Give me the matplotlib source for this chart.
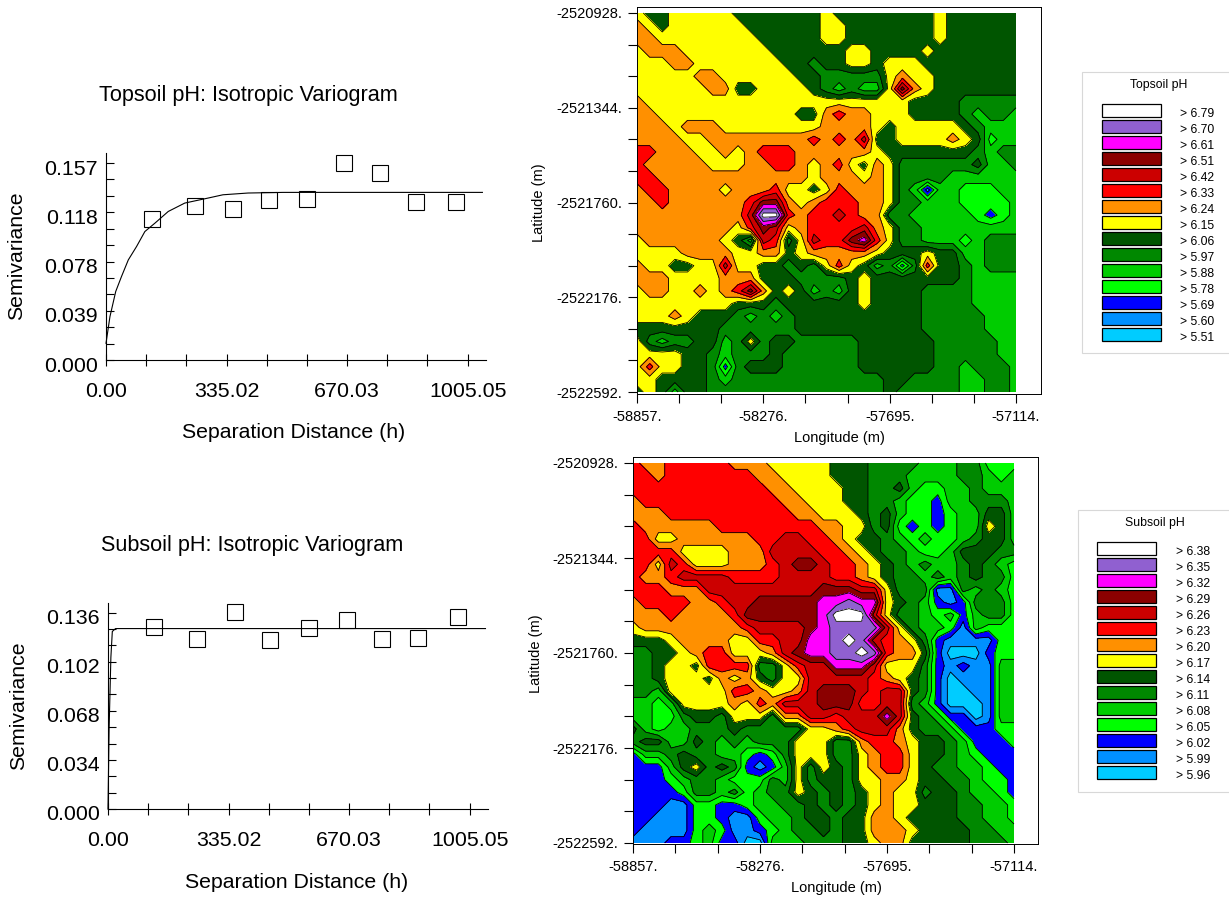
"""
Variograms and kriged pH maps for topsoil and subsoil.
"""

import numpy as np
import matplotlib
matplotlib.use("Agg")
import matplotlib.pyplot as plt
from matplotlib.colors import ListedColormap
from matplotlib.patches import Rectangle
from matplotlib.transforms import ScaledTranslation

plt.rcParams['font.family'] = ['Liberation Sans', 'DejaVu Sans']

W, H = 1229, 898

# variogram data
top_h = [126.7, 246.9, 352.3, 453.0, 557.5, 662.0, 761.8, 860.8, 971.7]
top_gamma = [0.1126, 0.1224, 0.1203, 0.1272, 0.1285, 0.1570, 0.1490, 0.1256, 0.1259]
top_model_h = [0, 11, 27, 43, 62, 85, 108, 136, 173, 219, 284, 325, 395, 492, 1046]
top_model = [0.0133, 0.0346, 0.0546, 0.0665, 0.0798, 0.0905, 0.1024, 0.1091,
             0.1184, 0.1251, 0.1291, 0.1317, 0.1331, 0.1336, 0.1336]

sub_h = [126.7, 246.9, 352.3, 451.2, 557.5, 663.9, 761.8, 861.7, 971.7]
sub_gamma = [0.1263, 0.1180, 0.1362, 0.1169, 0.1252, 0.1305, 0.1180, 0.1183, 0.1332]
sub_model_h = [0, 3, 8, 12, 21, 1049]
sub_model = [0.0, 0.055, 0.105, 0.1229, 0.1249, 0.1249]

x_labels = ['0.00', '335.02', '670.03', '1005.05']
x_values = [0.0, 335.02, 670.03, 1005.05]
top_y_labels = ['0.000', '0.039', '0.078', '0.118', '0.157']
sub_y_labels = ['0.000', '0.034', '0.068', '0.102', '0.136']

# map classes, a = lowest pH class ... o = highest
class_colors = ['#00CCFF', '#0090FF', '#0000FF', '#00FF00', '#00CC00', '#008800',
                '#005500', '#FFFF00', '#FF9000', '#FF0000', '#CC0000', '#8B0000',
                '#FF00FF', '#9060D0', '#FFFFFF']
top_breaks = ['5.51', '5.60', '5.69', '5.78', '5.88', '5.97', '6.06', '6.15',
              '6.24', '6.33', '6.42', '6.51', '6.61', '6.70', '6.79']
sub_breaks = ['5.96', '5.99', '6.02', '6.05', '6.08', '6.11', '6.14', '6.17',
              '6.20', '6.23', '6.26', '6.29', '6.32', '6.35', '6.38']

lon_labels = ['-58857.', '-58276.', '-57695.', '-57114.']
lon_values = [-58857, -58276, -57695, -57114]
lat_labels = ['-2522592.', '-2522176.', '-2521760.', '-2521344.', '-2520928.']
lat_values = [-2522592, -2522176, -2521760, -2521344, -2520928]

# rows run north to south, spaces are only for reading
topsoil_grid = [
    "hgg hhhhh ggggggg h gggggggg h gggggg",
    "ihg hhhhhh gggggg hh ggggggg h gggggg",
    "ii hhhhhhhh ggggg hh ggggggg h gggggg",
    "hiii hhhhhhh gggggg hh gggg h ggggggg",
    "hhhii hhhhhhh gg fgg hh g hhh gggggggg",
    "hhhhh ii hhhhhh gg fffff h i hh ggggggg",
    "hhhhhh ii gg hhhh g fefee h l i h ggggggg",
    "i hhhhhhhhhhhhhhhhhhhhh gggg fffff",
    "ii hhhhhhhhhhh gg ijii hhh gggg feffe",
    "iii h iii hhhhhhhh iiii h g hhhhh g f eee",
    "iiii hh iiiiiiii j i j i k gg hhhh i h g d ee",
    "jjiii hh i h i jjj iiiiii h ggggggg feff",
    "j iiiii hhh ii jj i h i j h g i h ffffff g ee f",
    "jj iiiiiiiii iii h iii h i h ffff eeeeee",
    "ijj iiii h iii j hh g h j iii h f e b ee ddd ee",
    "ii j iiiiii j l l i h i jjj ii h ff eee dddd e",
    "iiiiiiiii k oo j i jj k j ii f f eeeee d c d e",
    "iiiiiiii h j l k h i jjjj k i h f f eeeeeeee",
    "h iiiiii h g e k j f h k jj l m j h ff eee d e fff",
    "hhhh iiii h h ii g h iiiii h ggg h gg e e fff",
    "ihh gg hh k hh gg f g f h j h g e f c f j g g f e fff",
    "iii hhhh iii ggg ffff g h ggggggg f eeee",
    "h ii hh i h i j l i g h g e f e g h gggg ffff eeee",
    "hhhhhhhh ggg f gggggg h gggg ffff eeee",
    "hhhihggg fefef gggggggggg fffff eee",
    "ggggggg ffffff gggggggggg fffff eee",
    "h f e ff gg e f h f g g fffff gggggg fffff ee",
    "hhhh gg f e fff g ffffff gggggg fffff ee",
    "hjhh gg f c f ggg ffffff gggggg ff e fff e",
    "hh gggg f e ffffffffffff gg ffff ee ff e",
    "gh g e gg ffffffffffffff g ffff f ee ff e",
]

subsoil_grid = [
    "j ii jjjjj iii hhhhh ggg ffff eee ff ddd",
    "jj i jjjjjj j ii hhhh ggg fff eeee ff e d e",
    "jjjjjjjjjjj ii hhhh gg ff g e dd ee f eee",
    "i jjjjjjjjjjj ii hhh gg ff e dd c ee fffe",
    "iii jjjjjjjjjj ii hhh g f g e dd c d ee gg e",
    "j iiiiii jjjjjjjj ii hh f g d c d c d ee h g e",
    "jj hh iiiiii jj kk jj i h gg f e d e dd e f gg e",
    "jjjj hhhh iii kkkk jj i h g ff e dd e ggg ff",
    "j j h k j hhh iii j k ll k jj i h g f e f ee f g f e d",
    "j ii j kkkk jjjj kkkk jj i h g ff e f e f g ff d",
    "jjj iii kkkkkkkkk lll kk h fff bb f e f e d",
    "i jjjj ii j kk lllll m m n mm h g f e c b c fff d",
    "iii j iiii j llllll m ooo k h ff e d e c e f f d",
    "h iiiiiiii j kkkk l m nnnn k h f e e d b e ddd",
    "ggg h iiii hh jj kk mm n o n k j i h f c bbbb dd",
    "ff gg h i jj hhh i k l mm nn o n j ii g c aaa c dd",
    "ffg hh g jjj j f f h j kk mmm k hhh f c b c bb ee",
    "ffg hhh g i h i g f hh kkkkk j i h g f c a bbb ee",
    "ffe hhhh h jj i hh i k lll k j kk g f c aa bb ee",
    "ee d e hhhh i h j i kkk lll j j kk f e c aaa b ee",
    "e e dd f gg f hhh f i i kk j k k k m k g f e c c a b ee",
    "g e d ee ff f g ffff f h h i j kk k i g ff e ccc dd",
    "fgg ee g f e f e fff hhh ff i jj i h gg f e ccc d",
    "c ee f g ff ee d c d f hhh ff h i jj h gg f e d ccc",
    "ccc e g h f g f c b c e h f h g f h i jj h g ff ee d cc",
    "ccc d e ff e ddd f e h f gg f hh ii h gg ff e dd c",
    "cccc d ff e f d e ff h g f g f g h i hh f gg f ee d c",
    "ccc bb dd cc d ee ff g f g f g h i hh ggg ff ee d",
    "cc bbb dd c bb d ee f gg f gg ii h gggg ff ee d",
    "cbbbb d e d bb c d e ff g f gg iii h gggg ff ee",
    "bbb cc d e cc aa eee fff gg h ii ggggg fff e",
]


def px_text(fig, x, y, s, **kw):
    kw.setdefault('ha', 'center')
    kw.setdefault('va', 'center')
    fig.text(x / W, 1 - y / H, s, **kw)


def px_axes(fig, left, top, right, bottom):
    return fig.add_axes([left / W, 1 - bottom / H, (right - left) / W, (bottom - top) / H])


def grid_values(rows):
    """Letters to class centres on the 0..15 scale."""
    out = []
    for row in rows:
        out.append([ord(c) - ord('a') + 0.5 for c in row.replace(' ', '')])
    return np.array(out)


def draw_variogram(fig, box, h, gamma, model_h, model, y_labels, y_max, x_max, y_top):
    ax = px_axes(fig, *box)
    ax.set_facecolor('none')
    ax.plot(model_h, model, color='black', lw=0.8, clip_on=False)
    ax.plot(h, gamma, ls='none', marker='s', ms=11.3, mfc='none', mec='black', mew=0.8,
            clip_on=False)

    ax.set_xlim(0, x_max)
    ax.set_ylim(0, y_top)
    for side in ('top', 'right'):
        ax.spines[side].set_visible(False)
    for side in ('left', 'bottom'):
        ax.spines[side].set_linewidth(0.8)

    ax.set_xticks(x_values)
    ax.set_xticklabels(x_labels, fontsize=15.4)
    ax.set_xticks([x_values[3] * k / 9 for k in range(10)], minor=True)
    ax.tick_params(axis='x', which='both', direction='inout', length=8, width=0.8, pad=12)

    y_ticks = [y_max * k / 4 for k in range(5)]
    ax.set_yticks(y_ticks)
    ax.set_yticklabels(y_labels, fontsize=15.4)
    ax.set_yticks([y_max * k / 12 for k in range(13)], minor=True)
    ax.tick_params(axis='y', which='both', direction='in', length=6, width=0.8, pad=6)

    # labels sit a little below their ticks
    shift = ScaledTranslation(0, -0.04, fig.dpi_scale_trans)
    for lab in ax.get_yticklabels():
        lab.set_transform(lab.get_transform() + shift)
    return ax


def draw_map(fig, frame, data_box, rows):
    left, top, right, bottom = frame
    d_left, d_top, d_right, d_bottom = data_box
    ax = px_axes(fig, left, top, right, bottom)

    lon_per_px = (lon_values[-1] - lon_values[0]) / (d_right - d_left)
    lat_per_px = (lat_values[-1] - lat_values[0]) / (d_bottom - d_top)
    ax.set_xlim(lon_values[0], lon_values[-1] + (right - d_right) * lon_per_px)
    ax.set_ylim(lat_values[0] - (bottom - d_bottom) * lat_per_px,
                lat_values[-1] + (d_top - top) * lat_per_px)

    z = grid_values(rows)
    x = np.linspace(lon_values[0], lon_values[-1], z.shape[1])
    y = np.linspace(lat_values[-1], lat_values[0], z.shape[0])
    levels = np.arange(16)
    ax.contourf(x, y, z, levels=levels, cmap=ListedColormap(class_colors))
    ax.contour(x, y, z, levels=levels[1:-1], colors='black', linewidths=0.6)

    ax.set_xticks(lon_values)
    ax.set_xticklabels(lon_labels, fontsize=10.5)
    ax.set_xticks(np.linspace(lon_values[0], lon_values[-1], 10), minor=True)
    ax.set_yticks(lat_values)
    ax.set_yticklabels(lat_labels, fontsize=10.5)
    ax.set_yticks(np.linspace(lat_values[0], lat_values[-1], 13), minor=True)
    ax.tick_params(axis='y', which='both', length=6.5, width=0.8, pad=4)
    ax.tick_params(axis='x', which='both', length=6.5, width=0.8, pad=5)
    for spine in ax.spines.values():
        spine.set_linewidth(0.7)
    return ax


def draw_legend(fig, left, top, bottom, title, title_x, sw_left, sw_right, lab_x, breaks):
    fig.add_artist(Rectangle((left / W, 1 - bottom / H), (W - left + 5) / W, (bottom - top) / H,
                             transform=fig.transFigure, facecolor='white',
                             edgecolor='#d8d8d8', lw=0.8))
    px_text(fig, title_x, top + 13, title, fontsize=8.8)
    n = len(breaks)
    for i in range(n):
        idx = n - 1 - i
        y0 = top + 32 + 16 * i
        fig.add_artist(Rectangle((sw_left / W, 1 - (y0 + 13) / H), (sw_right - sw_left) / W, 13 / H,
                                 transform=fig.transFigure, facecolor=class_colors[idx],
                                 edgecolor='black', lw=0.9))
        px_text(fig, lab_x, y0 + 10, '> ' + breaks[idx], ha='left', fontsize=8.7)


fig = plt.figure(figsize=(W / 100, H / 100), dpi=100)

# left column
draw_variogram(fig, (106, 153, 486, 360), top_h, top_gamma, top_model_h, top_model,
               top_y_labels, 0.157, 1056.0, 0.165)
draw_variogram(fig, (108, 603, 488, 809), sub_h, sub_gamma, sub_model_h, sub_model,
               sub_y_labels, 0.136, 1056.0, 0.1426)

px_text(fig, 248, 95, 'Topsoil pH: Isotropic Variogram', fontsize=15.6)
px_text(fig, 294, 432, 'Separation Distance (h)', fontsize=15.3)
px_text(fig, 17, 256, 'Semivariance', fontsize=15.3, rotation=90)
px_text(fig, 252, 545, 'Subsoil pH: Isotropic Variogram', fontsize=15.6)
px_text(fig, 297, 882, 'Separation Distance (h)', fontsize=15.3)
px_text(fig, 19, 706, 'Semivariance', fontsize=15.3, rotation=90)

# maps
draw_map(fig, (637, 7, 1041, 394), (637, 13, 1016, 392), topsoil_grid)
draw_map(fig, (633, 457, 1038, 844), (633, 463, 1014, 843), subsoil_grid)

px_text(fig, 839, 438, 'Longitude (m)', fontsize=10.5)
px_text(fig, 539, 203, 'Latitude (m)', fontsize=10.5, rotation=90)
px_text(fig, 836, 888, 'Longitude (m)', fontsize=10.5)
px_text(fig, 536, 654, 'Latitude (m)', fontsize=10.5, rotation=90)

# legends
draw_legend(fig, 1082, 72, 353, 'Topsoil pH', 1159, 1102, 1161, 1180, top_breaks)
draw_legend(fig, 1078, 510, 792, 'Subsoil pH', 1155, 1097, 1156, 1176, sub_breaks)

fig.savefig('out.png', dpi=100)
